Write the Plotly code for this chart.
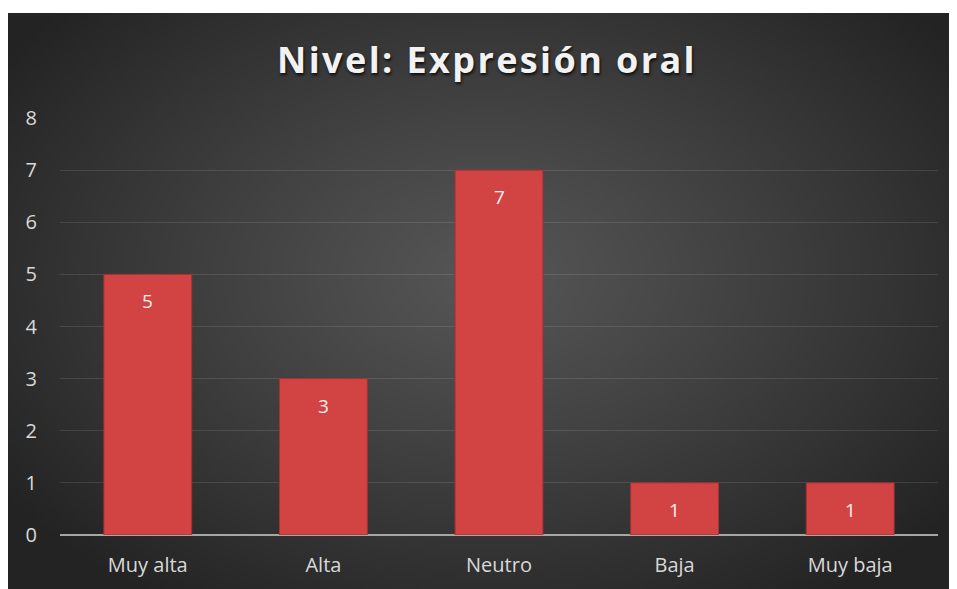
import base64, struct, zlib
import numpy as np
import plotly.graph_objects as go

categories = ["Muy alta", "Alta", "Neutro", "Baja", "Muy baja"]
values = [5, 3, 7, 1, 1]
y_ticks = [0, 1, 2, 3, 4, 5, 6, 7, 8]
title_text = "Nivel: Expresión oral"

W, H = 957, 589
ML, MR, MT, MB = 52, 27, 110, 62
PW, PH = W - ML - MR, H - MT - MB

# ---- radial gradient background as a PNG ----
gw, gh = 320, 194
xs = np.linspace(0, 1, gw)
ys = np.linspace(0, 1, gh)
X, Y = np.meshgrid(xs, ys)
t = np.sqrt(((X - 0.5) / 0.62) ** 2 + ((Y - 0.45) / 0.68) ** 2)
t = np.clip(t, 0, 1)
v = 86 - (86 - 35) * (t ** 1.1)
img = np.clip(v, 0, 255).astype(np.uint8)
rgb = np.stack([img, img, img], axis=-1)
raw = b"".join(b"\x00" + rgb[r].tobytes() for r in range(gh))

def chunk(tag, data):
    c = struct.pack(">I", len(data)) + tag + data
    return c + struct.pack(">I", zlib.crc32(tag + data) & 0xFFFFFFFF)

png = (b"\x89PNG\r\n\x1a\n" + chunk(b"IHDR", struct.pack(">IIBBBBB", gw, gh, 8, 2, 0, 0, 0))
       + chunk(b"IDAT", zlib.compress(raw, 9)) + chunk(b"IEND", b""))
uri = "data:image/png;base64," + base64.b64encode(png).decode()

bx0, by0, bx1, by1 = 0, 5, 957, 589

fig = go.Figure()
fig.add_trace(go.Bar(
    x=categories, y=values,
    marker=dict(color="#D24343", line=dict(color="#A83232", width=1)),
    hoverinfo="x+y",
))

annotations = []
for c, v_ in zip(categories, values):
    annotations.append(dict(x=c, y=v_, xref="x", yref="y", text=str(v_), showarrow=False,
                            yshift=-27, font=dict(family="Open Sans", size=19, color="#F2F2F2")))

fig.update_layout(
    width=W, height=H,
    margin=dict(l=ML, r=MR, t=MT, b=MB, pad=0),
    paper_bgcolor="#242424",
    plot_bgcolor="rgba(0,0,0,0)",
    bargap=0.5,
    showlegend=False,
    title=dict(text="<b>" + title_text + "</b>", x=479 / W, xanchor="center", y=1 - 52 / H, yanchor="middle",
               xref="container", yref="container",
               font=dict(family="Open Sans", size=36, color="#F2F2F2",
                         shadow="1px 2px 3px rgba(0,0,0,0.8)")),
    images=[dict(source=uri, xref="paper", yref="paper",
                 x=(bx0 - ML) / PW, y=(H - MB - by0) / PH,
                 sizex=(bx1 - bx0) / PW, sizey=(by1 - by0) / PH,
                 xanchor="left", yanchor="top", sizing="stretch", layer="below")],
    shapes=[dict(type="rect", xref="paper", yref="paper", layer="above",
                 x0=-1, x1=2, y0=(H - MB - by0) / PH, y1=(H - MB + 20) / PH,
                 fillcolor="white", line=dict(width=0))],
    annotations=annotations,
    xaxis=dict(showgrid=False, showline=False, ticks="",
               tickfont=dict(family="Open Sans", size=20, color="#D9D9D9"),
               ticklabelstandoff=16),
    yaxis=dict(range=[0, 8], tickvals=y_ticks, showgrid=True,
               gridcolor="rgba(255,255,255,0.11)", gridwidth=1,
               zeroline=True, zerolinecolor="#A6A6A6", zerolinewidth=2,
               showline=False, ticks="",
               tickfont=dict(family="Open Sans", size=20, color="#D9D9D9"),
               ticklabelstandoff=22),
)

post = """
document.documentElement.style.overflow='hidden';
document.body.style.overflow='hidden';
var gd=document.getElementsByClassName('plotly-graph-div')[0];
if(gd){gd.style.width='957px';gd.style.minWidth='957px';gd.style.overflow='visible';}
function sp(){var t=document.querySelectorAll('.gtitle');t.forEach(function(e){e.style.letterSpacing='2.4px';});}
sp();
if(gd&&gd.on){gd.on('plotly_afterplot',sp);}
"""
fig.write_html("out.html", post_script=post)
